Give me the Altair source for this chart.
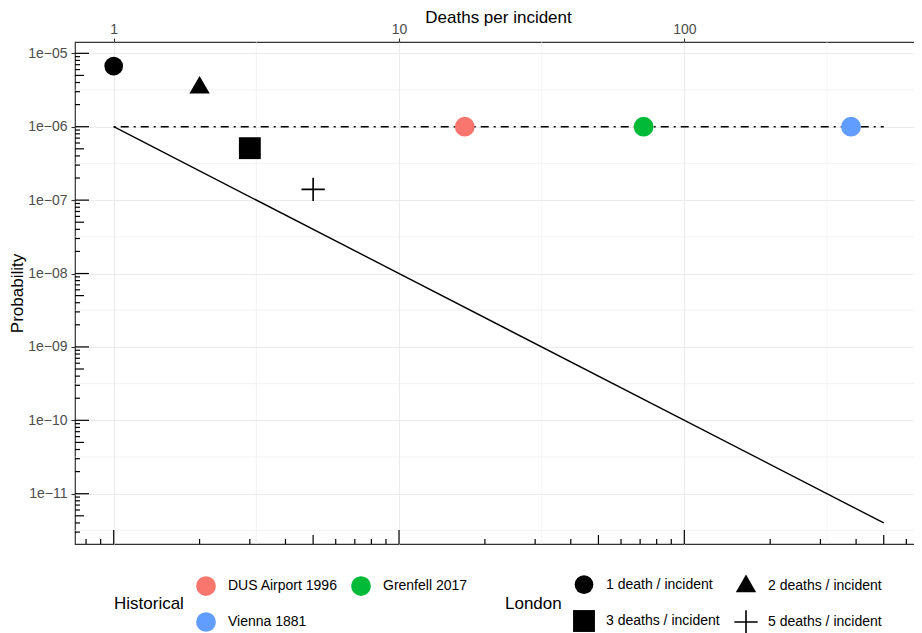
import math
import altair as alt
import pandas as pd

# ---------------- data ----------------
hist_labels = ["DUS Airport 1996", "Grenfell 2017", "Vienna 1881"]
hist_deaths = [17, 72, 384]
hist_prob = [1e-6, 1e-6, 1e-6]
hist_colors = ["#F8766D", "#00BA38", "#619CFF"]

london_labels = ["1 death / incident", "2 deaths / incident",
                 "3 deaths / incident", "5 deaths / incident"]
london_deaths = [1, 2, 3, 5]
london_prob = [6.7e-6, 3.4e-6, 5.1e-7, 1.4e-7]

ref_deaths = [1, 500]
ref_prob_slope = [1e-6, 4e-12]
ref_prob_flat = [1e-6, 1e-6]

x_ticks = [1, 10, 100]
x_tick_labels = ["1", "10", "100"]
y_ticks = [1e-5, 1e-6, 1e-7, 1e-8, 1e-9, 1e-10, 1e-11]
y_tick_labels = ["1e\u221205", "1e\u221206", "1e\u221207", "1e\u221208",
                 "1e\u221209", "1e\u221210", "1e\u221211"]

x_minor_grid = [3.1623, 31.623, 316.23]
y_minor_grid = [3.1623e-6, 3.1623e-7, 3.1623e-8, 3.1623e-9,
                3.1623e-10, 3.1623e-11, 3.1623e-12]

x_log_long = [1, 10, 100]
x_log_mid = [5, 50, 500]
x_log_short = [0.8, 0.9, 2, 3, 4, 6, 7, 8, 9, 20, 30, 40, 60, 70, 80, 90,
               200, 300, 400, 600]
y_log_long = [1e-5, 1e-6, 1e-7, 1e-8, 1e-9, 1e-10, 1e-11]
y_log_mid = [5e-6, 5e-7, 5e-8, 5e-9, 5e-10, 5e-11, 5e-12]
y_log_short = [
    3e-12, 4e-12, 6e-12, 7e-12, 8e-12, 9e-12,
    2e-11, 3e-11, 4e-11, 6e-11, 7e-11, 8e-11, 9e-11,
    2e-10, 3e-10, 4e-10, 6e-10, 7e-10, 8e-10, 9e-10,
    2e-9, 3e-9, 4e-9, 6e-9, 7e-9, 8e-9, 9e-9,
    2e-8, 3e-8, 4e-8, 6e-8, 7e-8, 8e-8, 9e-8,
    2e-7, 3e-7, 4e-7, 6e-7, 7e-7, 8e-7, 9e-7,
    2e-6, 3e-6, 4e-6, 6e-6, 7e-6, 8e-6, 9e-6,
]

x_domain = [0.7317, 675.4]
y_domain = [2.065e-12, 1.426e-5]

W, H = 846, 502
FONT = "Liberation Sans"


def label_expr(values, labels):
    expr = "''"
    for v, l in reversed(list(zip(values, labels))):
        e = round(math.log10(v), 4)
        expr = f"(abs(log(datum.value)/LN10 - ({e})) < 0.01) ? '{l}' : {expr}"
    return expr


x_scale = alt.Scale(type="log", domain=x_domain, nice=False)
y_scale = alt.Scale(type="log", domain=y_domain, nice=False)

x_axis = alt.Axis(
    title="Deaths per incident", orient="top", values=x_ticks,
    labelExpr=label_expr(x_ticks, x_tick_labels),
    grid=True, gridColor="#ebebeb", gridWidth=1.1,
    domain=False, ticks=True, tickSize=4, tickColor="#333333", tickWidth=1.1,
    labelColor="#4d4d4d", labelFontSize=14, labelFont=FONT, labelPadding=2,
    titleFont=FONT, titleFontSize=17, titleFontWeight="normal",
    titleColor="black", titlePadding=-4,
)
y_axis = alt.Axis(
    title="Probability", orient="left", values=y_ticks,
    labelExpr=label_expr(y_ticks, y_tick_labels),
    grid=True, gridColor="#ebebeb", gridWidth=1.1,
    domain=False, ticks=True, tickSize=4, tickColor="#333333", tickWidth=1.1,
    labelColor="#4d4d4d", labelFontSize=14, labelFont=FONT, labelPadding=4,
    titleFont=FONT, titleFontSize=17, titleFontWeight="normal",
    titleColor="black", titlePadding=1,
)


def X(field="deaths"):
    return alt.X(f"{field}:Q", scale=x_scale, axis=x_axis)


def Y(field="prob"):
    return alt.Y(f"{field}:Q", scale=y_scale, axis=y_axis)


# ---------------- layers ----------------
xgrid_minor = alt.Chart(pd.DataFrame({"deaths": x_minor_grid})).mark_rule(
    color="#ebebeb", strokeWidth=0.6).encode(x=X())
ygrid_minor = alt.Chart(pd.DataFrame({"prob": y_minor_grid})).mark_rule(
    color="#ebebeb", strokeWidth=0.6).encode(y=Y())

slope_line = alt.Chart(pd.DataFrame({"deaths": ref_deaths, "prob": ref_prob_slope})).mark_line(
    color="black", strokeWidth=1.4).encode(x=X(), y=Y())
flat_line = alt.Chart(pd.DataFrame({"deaths": ref_deaths, "prob": ref_prob_flat})).mark_line(
    color="black", strokeWidth=1.4, strokeDash=[2, 5, 8, 5]).encode(x=X(), y=Y())


def xticks_layer(vals, length):
    return alt.Chart(pd.DataFrame({"deaths": vals})).mark_rule(
        color="black", strokeWidth=1.2).encode(
        x=X(), y=alt.value(H), y2=alt.value(H - length))


def yticks_layer(vals, length):
    return alt.Chart(pd.DataFrame({"prob": vals})).mark_rule(
        color="black", strokeWidth=1.2).encode(
        y=Y(), x=alt.value(0), x2=alt.value(length))


hist_layer = alt.Chart(pd.DataFrame({
    "deaths": hist_deaths, "prob": hist_prob, "Historical": hist_labels})).mark_point(
    filled=True, opacity=1, size=390, shape="circle").encode(
    x=X(), y=Y(),
    color=alt.Color("Historical:N",
                    scale=alt.Scale(domain=hist_labels, range=hist_colors),
                    legend=alt.Legend(
                        title="Historical", orient="none", legendX=39, legendY=534,
                        direction="horizontal", columns=2, titleOrient="left",
                        titleAnchor="middle", titleBaseline="middle",
                        titlePadding=12, symbolType="circle", symbolSize=390,
                        symbolStrokeWidth=0, symbolOpacity=1,
                        labelOffset=12, columnPadding=13, rowPadding=16,
                        labelFontSize=14, labelFont=FONT, labelColor="black",
                        titleFontSize=17, titleFont=FONT, titleFontWeight="normal",
                        titleColor="black", padding=0)),
)

TRI = "M0,-1.1547L1,0.5774L-1,0.5774Z"
PLUS = "M-1,-0.07H-0.07V-1H0.07V-0.07H1V0.07H0.07V1H-0.07V0.07H-1Z"
london_legend = alt.Legend(
    title="London", orient="none", legendX=430, legendY=533,
    direction="horizontal", columns=2, titleOrient="left",
    titleAnchor="middle", titleBaseline="middle",
    titlePadding=10, symbolFillColor="black", symbolStrokeWidth=0,
    symbolOpacity=1, labelOffset=10, columnPadding=14, rowPadding=16,
    labelFontSize=14, labelFont=FONT, labelColor="black",
    titleFontSize=17, titleFont=FONT, titleFontWeight="normal",
    titleColor="black", padding=0)

london_layer = alt.Chart(pd.DataFrame({
    "deaths": london_deaths, "prob": london_prob, "London": london_labels})).mark_point(
    filled=True, opacity=1, color="black").encode(
    x=X(), y=Y(),
    shape=alt.Shape("London:N",
                    scale=alt.Scale(domain=london_labels,
                                    range=["circle", TRI, "square", PLUS]),
                    legend=london_legend),
    size=alt.Size("London:N",
                  scale=alt.Scale(domain=london_labels, range=[350, 543, 335, 650]),
                  legend=london_legend),
)

chart = alt.layer(
    xgrid_minor, ygrid_minor,
    slope_line, flat_line,
    xticks_layer(x_log_long, 14), xticks_layer(x_log_mid, 9), xticks_layer(x_log_short, 5),
    yticks_layer(y_log_long, 14), yticks_layer(y_log_mid, 9), yticks_layer(y_log_short, 5),
    hist_layer, london_layer,
).properties(
    width=W, height=H,
    autosize=alt.AutoSizeParams(type="none"),
    padding={"left": 67, "top": 34, "right": -7, "bottom": 89},
    background="white",
).configure(font=FONT).configure_view(
    stroke="#333333", strokeWidth=1.2
)

chart.save("out.html", embed_options={"renderer": "svg", "actions": False})
